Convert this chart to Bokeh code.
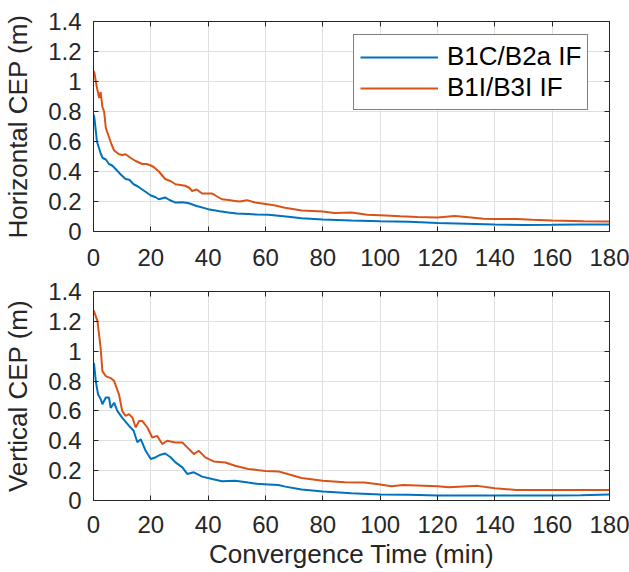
from bokeh.plotting import figure
from bokeh.layouts import column
from bokeh.models import (Range1d, FixedTicker, LinearAxis, Legend, LegendItem,
                          CustomLabelingPolicy)
from bokeh.embed import file_html
from bokeh.resources import INLINE

# ---------------- data ----------------
x_ticks = [0, 20, 40, 60, 80, 100, 120, 140, 160, 180]
y_ticks = [0, 0.2, 0.4, 0.6, 0.8, 1.0, 1.2, 1.4]
y_tick_labels = ["0", "0.2", "0.4", "0.6", "0.8", "1", "1.2", "1.4"]

series_names = ["B1C/B2a IF", "B1I/B3I IF"]
series_colors = ["#0072BD", "#D95319"]

h_b1c_t = [0, 0.3, 1.2, 2.5, 3.2, 4.3, 5.4, 6.5, 7.8, 9.5, 11.2, 12.5, 14, 15.5, 17, 18.5, 20, 21.5,
           22.8, 25, 26.5, 28.6, 31, 33, 36, 40, 44, 47, 50, 54, 57, 61, 64.5, 68, 72.6, 80, 90, 100,
           110, 120, 130, 140, 150, 160, 170, 180]
h_b1c_v = [0.78, 0.76, 0.60, 0.52, 0.49, 0.48, 0.45, 0.44, 0.415, 0.38, 0.35, 0.345, 0.315, 0.30,
           0.28, 0.26, 0.24, 0.23, 0.215, 0.227, 0.21, 0.193, 0.195, 0.19, 0.17, 0.149, 0.135, 0.127,
           0.12, 0.116, 0.113, 0.112, 0.105, 0.098, 0.089, 0.08, 0.073, 0.068, 0.065, 0.056, 0.052,
           0.047, 0.044, 0.045, 0.047, 0.046]

h_b1i_t = [0, 0.3, 0.8, 1.3, 2, 2.5, 3.1, 3.7, 4.3, 5.4, 6.3, 7.2, 8.9, 10, 11.2, 13, 14.7, 17, 18.5,
           20, 21, 22.8, 25, 27, 28.6, 32, 33.5, 34.4, 36, 37.9, 41.4, 43, 44.8, 47, 49.4, 51, 53.5,
           56.4, 60, 63, 66.8, 70, 72.6, 80, 84, 90, 95.5, 100, 107, 113, 120, 126, 130, 136, 140,
           147.5, 153, 160, 171, 180]
h_b1i_v = [1.07, 1.06, 1.0, 0.95, 0.89, 0.93, 0.83, 0.80, 0.69, 0.63, 0.58, 0.54, 0.515, 0.51, 0.515,
           0.49, 0.47, 0.45, 0.45, 0.44, 0.43, 0.40, 0.35, 0.335, 0.315, 0.305, 0.29, 0.27, 0.28,
           0.253, 0.253, 0.235, 0.215, 0.21, 0.204, 0.20, 0.209, 0.193, 0.184, 0.175, 0.158, 0.148,
           0.14, 0.134, 0.124, 0.127, 0.111, 0.108, 0.102, 0.097, 0.094, 0.103, 0.096, 0.085, 0.083,
           0.083, 0.078, 0.074, 0.069, 0.067]

v_b1c_t = [0, 0.2, 0.8, 1.6, 2.5, 3.1, 4.3, 5.4, 6, 7.2, 8.3, 10, 12.4, 14, 15.3, 16.5, 18.2, 20, 21.7,
           23.4, 25, 26.9, 28.6, 31, 32.7, 35, 37.9, 41.4, 44.8, 49.4, 54, 57, 61, 64.5, 66.9, 72.6,
           80, 90, 100, 110, 120, 130, 140, 150, 160, 170, 180]
v_b1c_v = [0.92, 0.915, 0.80, 0.71, 0.68, 0.645, 0.69, 0.69, 0.62, 0.655, 0.60, 0.555, 0.50, 0.467,
           0.39, 0.41, 0.333, 0.278, 0.29, 0.307, 0.315, 0.29, 0.255, 0.222, 0.178, 0.189, 0.16,
           0.144, 0.129, 0.133, 0.12, 0.112, 0.108, 0.104, 0.093, 0.073, 0.06, 0.049, 0.041, 0.038,
           0.034, 0.034, 0.034, 0.033, 0.034, 0.036, 0.04]

v_b1i_t = [0, 0.2, 1.4, 2.5, 3.1, 4.3, 6, 7.2, 8.9, 10, 11.2, 12.4, 13.6, 14.7, 15.9, 17, 18.8, 20.5,
           22.2, 24, 25.7, 28.6, 31, 32.7, 35, 36.7, 39, 41.9, 46, 49.4, 54, 57, 60, 64.5, 66.8, 72.6,
           80, 87.6, 94.5, 100, 104, 108, 120, 124, 134, 140, 147.5, 160, 180]
v_b1i_v = [1.27, 1.267, 1.2, 1.02, 0.867, 0.833, 0.82, 0.80, 0.71, 0.60, 0.567, 0.578, 0.555, 0.489,
           0.533, 0.533, 0.489, 0.422, 0.433, 0.378, 0.40, 0.389, 0.389, 0.356, 0.311, 0.333, 0.289,
           0.262, 0.255, 0.233, 0.211, 0.205, 0.198, 0.195, 0.182, 0.151, 0.133, 0.122, 0.12, 0.107,
           0.096, 0.104, 0.096, 0.089, 0.098, 0.082, 0.071, 0.071, 0.071]

FONT = "Liberation Sans"
TXT = "#262626"
GRID = "#dfdfdf"

NO_LABELS = CustomLabelingPolicy(code="""
    const idx = [...indices]
    for (const i of idx) indices.unset(i)
    return indices
""")


def style_fig(p, ylabel, xlabel=None, x_standoff=15):
    p.outline_line_color = TXT
    p.outline_line_width = 1
    p.background_fill_color = "white"
    p.border_fill_color = "white"
    for ax in p.xaxis:
        ax.ticker = FixedTicker(ticks=x_ticks)
    for ax in p.yaxis:
        ax.ticker = FixedTicker(ticks=y_ticks)
        ax.major_label_overrides = {t: l for t, l in zip(y_ticks, y_tick_labels)}
    for ax in list(p.xaxis) + list(p.yaxis):
        ax.major_tick_in = 5
        ax.major_tick_out = 0
        ax.minor_tick_in = 0
        ax.minor_tick_out = 0
        ax.major_tick_line_color = TXT
        ax.axis_line_color = TXT
        ax.major_label_text_font = FONT
        ax.major_label_text_font_size = "24px"
        ax.major_label_text_color = TXT
        ax.axis_label_text_font = FONT
        ax.axis_label_text_font_size = "26px"
        ax.axis_label_text_font_style = "normal"
        ax.axis_label_text_color = TXT
    p.yaxis.axis_label = ylabel
    p.yaxis.major_label_standoff = 12
    p.yaxis.axis_label_standoff = 12
    p.xaxis.major_label_standoff = x_standoff
    if xlabel:
        p.xaxis.axis_label = xlabel
        p.xaxis.axis_label_standoff = 3
    p.xgrid.ticker = FixedTicker(ticks=x_ticks)
    p.ygrid.ticker = FixedTicker(ticks=y_ticks)
    p.grid.grid_line_color = GRID
    p.grid.grid_line_width = 1

    # mirrored ticks on top and right (MATLAB box style), no labels
    top = LinearAxis(ticker=FixedTicker(ticks=x_ticks), major_tick_in=5, major_tick_out=0,
                     minor_tick_in=0, minor_tick_out=0, major_label_policy=NO_LABELS,
                     major_label_standoff=0, axis_line_color=TXT, major_tick_line_color=TXT)
    right = LinearAxis(ticker=FixedTicker(ticks=y_ticks), major_tick_in=5, major_tick_out=0,
                       minor_tick_in=0, minor_tick_out=0, major_label_policy=NO_LABELS,
                       major_label_standoff=0, axis_line_color=TXT, major_tick_line_color=TXT)
    p.add_layout(top, "above")
    p.add_layout(right, "right")


p1 = figure(width=629, height=274, x_range=Range1d(0, 180), y_range=Range1d(0, 1.4),
            output_backend="svg", toolbar_location=None,
            min_border_left=91, min_border_right=20, min_border_top=21, min_border_bottom=43)
style_fig(p1, "Horizontal CEP (m)", x_standoff=17)
r1 = p1.line(h_b1c_t, h_b1c_v, line_color=series_colors[0], line_width=2)
r2 = p1.line(h_b1i_t, h_b1i_v, line_color=series_colors[1], line_width=2)

legend = Legend(items=[LegendItem(label=series_names[0], renderers=[r1]),
                       LegendItem(label=series_names[1], renderers=[r2])],
                location=(260, 121))
legend.label_text_font = FONT
legend.label_text_font_size = "26px"
legend.label_text_color = "black"
legend.glyph_width = 78
legend.glyph_height = 28
legend.label_height = 28
legend.label_standoff = 9
legend.padding = 6
legend.spacing = 0
legend.margin = 0
legend.border_line_color = "black"
legend.border_line_width = 1
legend.background_fill_color = "white"
legend.background_fill_alpha = 1
p1.add_layout(legend, "center")

p2 = figure(width=629, height=298, x_range=Range1d(0, 180), y_range=Range1d(0, 1.4),
            output_backend="svg", toolbar_location=None,
            min_border_left=91, min_border_right=20, min_border_top=17, min_border_bottom=72)
style_fig(p2, "Vertical CEP (m)", "Convergence Time (min)", x_standoff=15)
p2.line(v_b1c_t, v_b1c_v, line_color=series_colors[0], line_width=2)
p2.line(v_b1i_t, v_b1i_v, line_color=series_colors[1], line_width=2)

layout = column(p1, p2, spacing=0)
open("out.html", "w").write(file_html(layout, INLINE))
